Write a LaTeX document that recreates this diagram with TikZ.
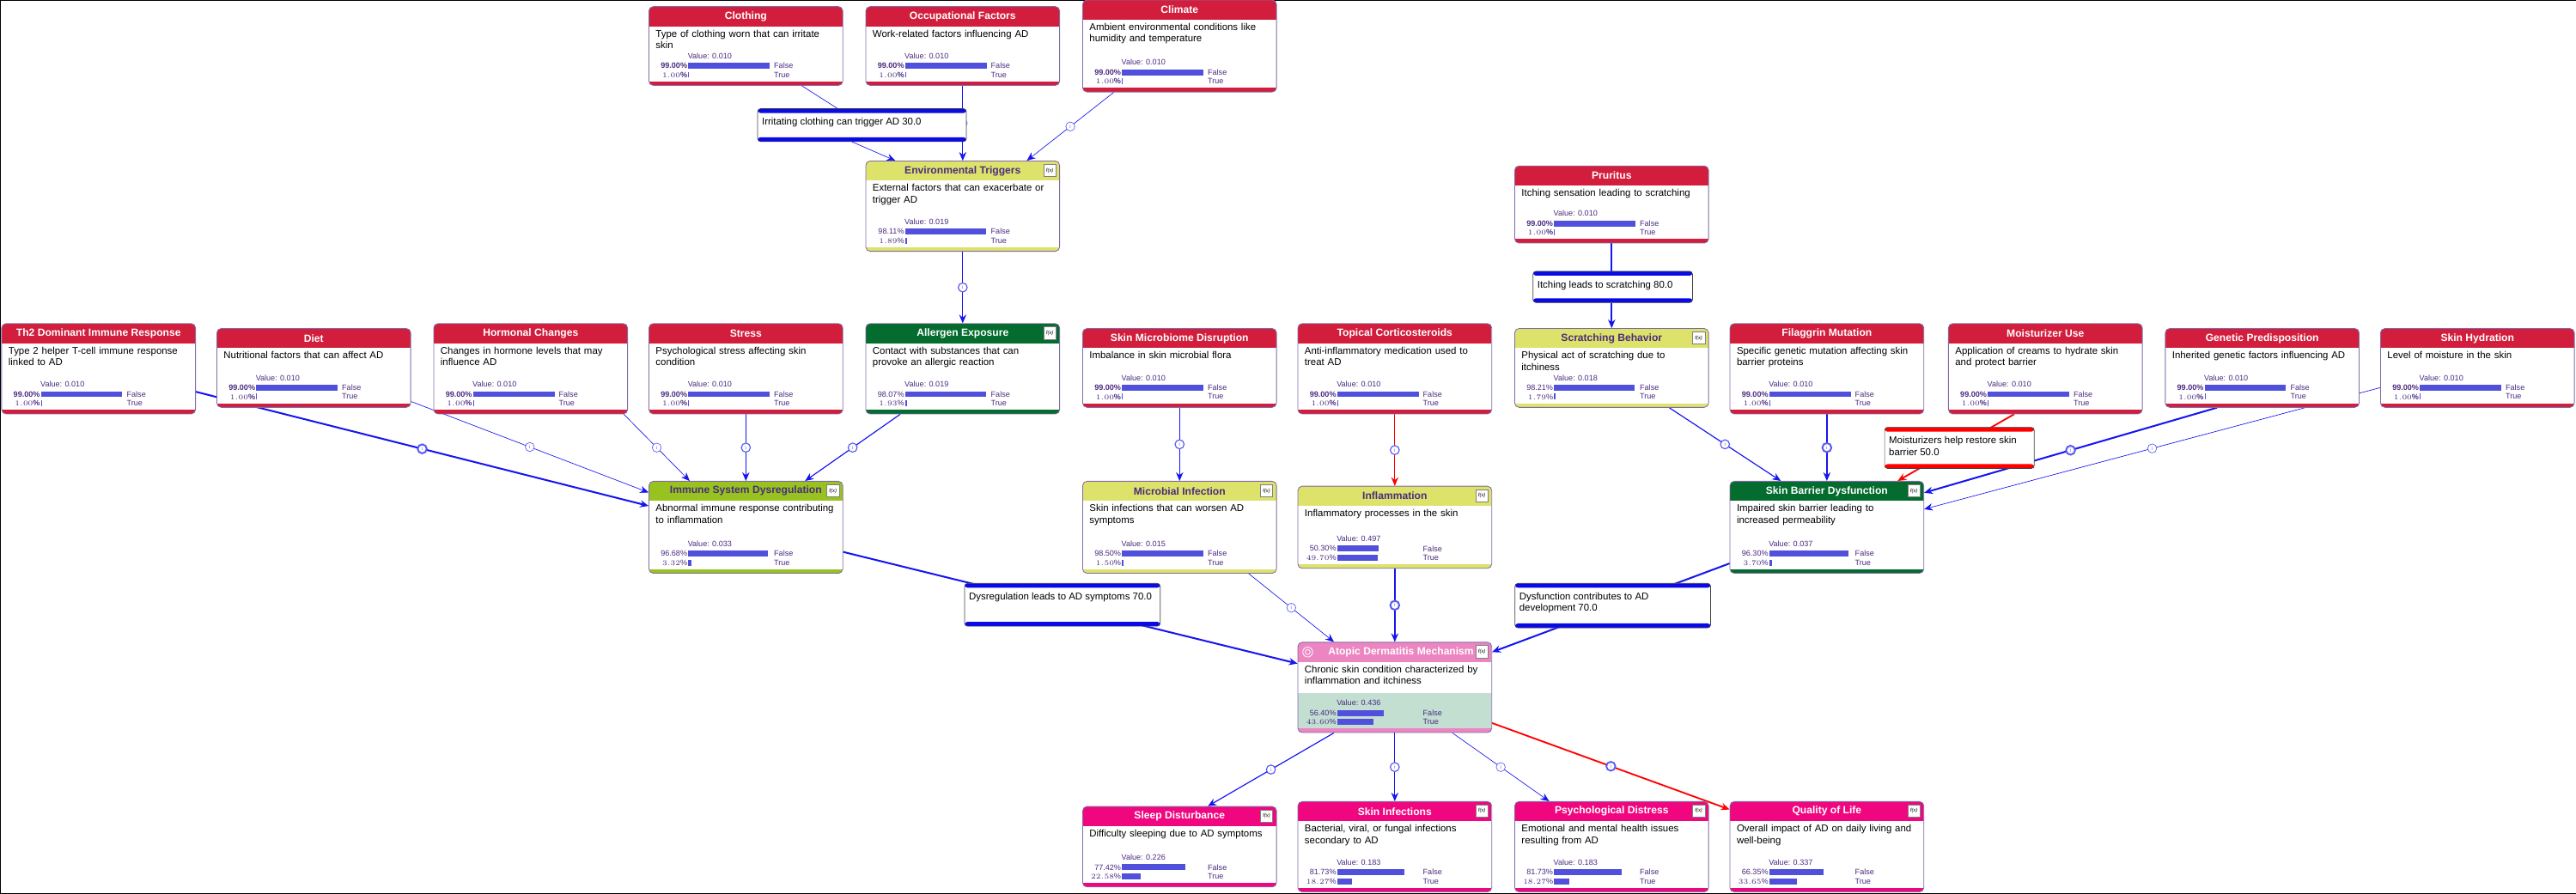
\documentclass[tikz,border=0pt]{standalone}
\usepackage{fontspec}
\setmainfont{Liberation Sans}
\usetikzlibrary{arrows.meta,positioning,fit,backgrounds}
\hyphenpenalty=10000
\exhyphenpenalty=10000

\definecolor{evred}{HTML}{D21E3C}
\definecolor{trigy}{HTML}{DCE26A}
\definecolor{darkgr}{HTML}{046C2F}
\definecolor{limegr}{HTML}{98C21D}
\definecolor{tgtpink}{HTML}{EC85C2}
\definecolor{magenta2}{HTML}{F0077F}
\definecolor{mint}{HTML}{C2DFD2}
\definecolor{purp}{HTML}{4B2C7F}
\definecolor{barblue}{HTML}{5050DC}
\definecolor{linkblue}{HTML}{1515F0}
\definecolor{notebl}{HTML}{0A0AE6}

\newcommand\descfont{\fontsize{6.8}{8}\selectfont}
\newcommand\titlefont{\fontsize{7.2}{8}\selectfont\bfseries}
\newcommand\valfont{\fontsize{5.4}{6}\selectfont}
\newcommand\notetext[3]{\parbox[t][#1][t]{#2}{\raggedright\vspace*{3.5pt}#3}}

\tikzset{
  nodeline/.style={draw=purp!70, line width=0.5pt},
  desc/.style={anchor=north west, text width=4.45cm, align=left, inner sep=0pt, font=\descfont},
  valtext/.style={inner sep=0pt, font=\valfont, text=purp},
  fxbox/.style={draw=gray, fill=white, inner sep=0.4pt, minimum size=0.3cm, font=\fontsize{3.5}{4}\selectfont\itshape},
  evhead/.style={fill=evred}, evtitle/.style={text=white, font=\titlefont}, evfx/.style={opacity=0},
  evpct/.style={font=\valfont\bfseries}, evband/.style={fill=white},
  trighead/.style={fill=trigy}, trigtitle/.style={text=purp, font=\titlefont}, trigfx/.style={},
  trigpct/.style={}, trigband/.style={fill=white},
  grhead/.style={fill=darkgr}, grtitle/.style={text=white, font=\titlefont}, grfx/.style={},
  grpct/.style={}, grband/.style={fill=white},
  limehead/.style={fill=limegr}, limetitle/.style={text=purp, font=\titlefont}, limefx/.style={},
  limepct/.style={}, limeband/.style={fill=white},
  tgthead/.style={fill=tgtpink}, tgttitle/.style={text=white, font=\titlefont}, tgtfx/.style={},
  tgtpct/.style={}, tgtband/.style={fill=white, path picture={
    \fill[mint] (path picture bounding box.south west) rectangle ([yshift=0.96cm]path picture bounding box.south east);}},
  maghead/.style={fill=magenta2}, magtitle/.style={text=white, font=\titlefont}, magfx/.style={},
  magpct/.style={}, magband/.style={fill=white},
  link/.style={draw=linkblue, line width=0.7pt, -{Stealth[length=6pt,width=5pt]}},
  thick link/.style={link, line width=1.2pt},
  thin link/.style={link, line width=0.4pt},
  red link/.style={link, draw=red},
  info/.style={circle, draw=linkblue!70, fill=white, inner sep=0pt, minimum size=0.22cm,
    font=\fontsize{3.5}{4}\selectfont, text=linkblue!70},
  note/.style={draw=gray!50!black, fill=white, rounded corners=2pt, anchor=north west,
    inner sep=3pt, font=\descfont, path picture={
    \fill[#1] (path picture bounding box.north west) rectangle ([yshift=-3pt]path picture bounding box.north east);
    \fill[#1] (path picture bounding box.south west) rectangle ([yshift=3pt]path picture bounding box.south east);}},
  note/.default=notebl,
}

% name, x, y, height, kind, title, description, value, false %
\newcommand\bnode[9]{%
\begin{scope}[shift={(#2,#3)}]
  \begin{scope}
    \clip[rounded corners=3pt] (0,0) rectangle (118,#4);
    \path[#5band] (0,0) rectangle (118,#4);
    \fill[#5head] (0,0) rectangle (118,12);
    \fill[#5head] (0,#4-2.5) rectangle (118,#4);
  \end{scope}
  \draw[nodeline, rounded corners=3pt] (0,0) coordinate (#1-a) rectangle (118,#4) coordinate (#1-b);
  \node[fit=(#1-a)(#1-b), inner sep=0pt] (#1) {};
  \node[#5title, inner sep=0pt] (#1-t) at (59,6) {#6};
  \node[fxbox,#5fx] (#1-fx) at (112,5.8) {f(x)};
  \node[desc] (#1-d) at (4,14) {#7};
  \pgfmathsetmacro\pT{100-#9}
  \node[valtext, anchor=west] (#1-v) at (23.5,#4-18) {Value: #8};
  \node[valtext, #5pct, anchor=east] (#1-pf) at (23.5,#4-12) {#9\%};
  \node[valtext, #5pct, anchor=east] (#1-pt) at (23.5,#4-6.5) {\pgfmathprintnumber[fixed,fixed zerofill,precision=2]{\pT}\%};
  \fill[barblue] (24,#4-13.8) rectangle ({24+0.5*#9},#4-10.2);
  \fill[barblue] (24,#4-8.3) rectangle ({24+0.5*\pT},#4-4.7);
  \node[valtext, anchor=west] (#1-f) at (76,#4-12) {False};
  \node[valtext, anchor=west] (#1-tr) at (76,#4-6.5) {True};
\end{scope}}

\begin{document}
\begin{tikzpicture}[x=0.04cm, y=-0.04cm]
\useasboundingbox (0,0) rectangle (1568,544);
\draw[line width=0.4pt] (0,0) rectangle (1568,544);

% top
\bnode{clothing}{395}{4}{48}{ev}{Clothing}{Type of clothing worn that can irritate skin}{0.010}{99.00}
\bnode{occup}{527}{4}{48}{ev}{Occupational Factors}{Work-related factors influencing AD}{0.010}{99.00}
\bnode{climate}{659}{0}{56}{ev}{Climate}{Ambient environmental conditions like humidity and temperature}{0.010}{99.00}
\bnode{envtrig}{527}{98}{55}{trig}{Environmental Triggers}{External factors that can exacerbate or trigger AD}{0.019}{98.11}
\bnode{pruritus}{922}{101}{47}{ev}{Pruritus}{Itching sensation leading to scratching}{0.010}{99.00}

% middle row
\bnode{th2}{1}{197}{55}{ev}{Th2 Dominant Immune Response}{Type 2 helper T-cell immune response linked to AD}{0.010}{99.00}
\bnode{diet}{132}{200}{48}{ev}{Diet}{Nutritional factors that can affect AD}{0.010}{99.00}
\bnode{hormonal}{264}{197}{55}{ev}{Hormonal Changes}{Changes in hormone levels that may influence AD}{0.010}{99.00}
\bnode{stress}{395}{197}{55}{ev}{Stress}{Psychological stress affecting skin condition}{0.010}{99.00}
\bnode{allergen}{527}{197}{55}{gr}{Allergen Exposure}{Contact with substances that can provoke an allergic reaction}{0.019}{98.07}
\bnode{microbiome}{659}{200}{48}{ev}{Skin Microbiome Disruption}{Imbalance in skin microbial flora}{0.010}{99.00}
\bnode{topical}{790}{197}{55}{ev}{Topical Corticosteroids}{Anti-inflammatory medication used to treat AD}{0.010}{99.00}
\bnode{scratching}{922}{200}{48}{trig}{Scratching Behavior}{Physical act of scratching due to itchiness}{0.018}{98.21}
\bnode{filaggrin}{1053}{197}{55}{ev}{Filaggrin Mutation}{Specific genetic mutation affecting skin barrier proteins}{0.010}{99.00}
\bnode{moisturizer}{1186}{197}{55}{ev}{Moisturizer Use}{Application of creams to hydrate skin and protect barrier}{0.010}{99.00}
\bnode{genetic}{1318}{200}{48}{ev}{Genetic Predisposition}{Inherited genetic factors influencing AD}{0.010}{99.00}
\bnode{hydration}{1449}{200}{48}{ev}{Skin Hydration}{Level of moisture in the skin}{0.010}{99.00}

% intermediate
\bnode{immune}{395}{293}{56}{lime}{Immune System Dysregulation}{Abnormal immune response contributing to inflammation}{0.033}{96.68}
\bnode{microbial}{659}{293}{56}{trig}{Microbial Infection}{Skin infections that can worsen AD symptoms}{0.015}{98.50}
\bnode{inflam}{790}{296}{50}{trig}{Inflammation}{Inflammatory processes in the skin}{0.497}{50.30}
\bnode{barrier}{1053}{293}{56}{gr}{Skin Barrier Dysfunction}{Impaired skin barrier leading to increased permeability}{0.037}{96.30}
\bnode{atopic}{790}{391}{55}{tgt}{\hspace{0.3cm}Atopic Dermatitis Mechanism}{Chronic skin condition characterized by inflammation and itchiness}{0.436}{56.40}
\draw[white, line width=0.5pt] (796,397) circle (3) (796,397) circle (1.5);

% outcomes
\bnode{sleep}{659}{491}{49}{mag}{Sleep Disturbance}{Difficulty sleeping due to AD symptoms}{0.226}{77.42}
\bnode{skininf}{790}{488}{55}{mag}{Skin Infections}{Bacterial, viral, or fungal infections secondary to AD}{0.183}{81.73}
\bnode{psych}{922}{488}{55}{mag}{Psychological Distress}{Emotional and mental health issues resulting from AD}{0.183}{81.73}
\bnode{qol}{1053}{488}{55}{mag}{Quality of Life}{Overall impact of AD on daily living and well-being}{0.337}{66.35}

% annotations
\node[note] (clothnote) at (461,66) {\notetext{0.59cm}{4.87cm}{Irritating clothing can trigger AD 30.0}};
\node[note] (itchnote) at (933,165) {\notetext{0.55cm}{3.67cm}{Itching leads to scratching 80.0}};
\node[note=red] (moistnote) at (1147,260) {\notetext{0.79cm}{3.43cm}{Moisturizers help restore skin barrier 50.0}};
\node[note] (dysnote) at (587,355) {\notetext{0.83cm}{4.55cm}{Dysregulation leads to AD symptoms 70.0}};
\node[note] (dysfnote) at (922,355) {\notetext{0.87cm}{4.55cm}{Dysfunction contributes to AD development 70.0}};

\begin{scope}[on background layer]
\draw[thin link, -] ([xshift=1.36cm]clothing.south) -- ([xshift=-0.6cm]clothnote.north);
\draw[thin link] ([xshift=-0.24cm]clothnote.south) -- ([xshift=-1.64cm]envtrig.north);
\draw[thin link] (occup) -- node[info]{i} (envtrig);
\draw[thin link] ([xshift=-1.6cm]climate.south) -- node[info]{i} ([xshift=1.56cm]envtrig.north);
\draw[link] (envtrig) -- node[info]{i} (allergen);
\draw[thick link] ([yshift=-0.56cm]th2.east) -- node[pos=0.5,info]{i} ([yshift=0.52cm]immune.west);
\draw[thin link] ([yshift=0.15cm]diet.south east) -- node[info]{i} ([yshift=-0.28cm]immune.north west);
\draw[thin link] ([xshift=-0.1cm]hormonal.south east) -- node[info]{i} ([xshift=1cm]immune.north west);
\draw[link] (stress) -- node[info]{i} (immune);
\draw[link] ([xshift=-1.52cm]allergen.south) -- node[info]{i} ([xshift=1.44cm]immune.north);
\draw[link] (microbiome) -- node[info]{i} (microbial);
\draw[red link] (topical) -- node[info]{i} (inflam);
\draw[thick link] ([yshift=-0.6cm]immune.east) -- ([yshift=0.58cm]atopic.west);
\draw[thin link] ([xshift=1.68cm]microbial.south) -- node[info]{i} ([xshift=-1.48cm]atopic.north);
\draw[thick link] (inflam) -- node[info]{i} (atopic);
\draw[thick link] ([yshift=-0.88cm]barrier.west) -- ([yshift=0.86cm]atopic.east);
\draw[thick link, -] (pruritus.south) -- (pruritus.south |- itchnote.north);
\draw[thick link] (pruritus.south |- itchnote.south) -- (scratching);
\draw[link] ([xshift=1.4cm]scratching.south) -- node[info]{i} ([xshift=-1.12cm]barrier.north);
\draw[thick link] (filaggrin) -- node[info]{i} (barrier);
\draw[red link, line width=1.1pt] ([xshift=-0.76cm]moisturizer.south) -- ([xshift=1.72cm]barrier.north);
\draw[thick link] ([xshift=-1.1cm]genetic.south) -- node[info]{i} ([yshift=0.84cm]barrier.east);
\draw[thin link] ([yshift=-0.48cm]hydration.west) -- node[info]{i} ([yshift=0.44cm]barrier.east);
\draw[link] ([xshift=-1.48cm]atopic.south) -- node[info]{i} ([xshift=-1.68cm]sleep.north east);
\draw[link] (atopic) -- node[info]{i} (skininf);
\draw[thin link] ([xshift=1.4cm]atopic.south) -- node[info]{i} ([xshift=-1.52cm]psych.north);
\draw[red link, line width=1.1pt] ([yshift=0.24cm]atopic.south east) -- node[info]{i} ([yshift=-0.2cm]qol.north west);
\end{scope}
\end{tikzpicture}
\end{document}
